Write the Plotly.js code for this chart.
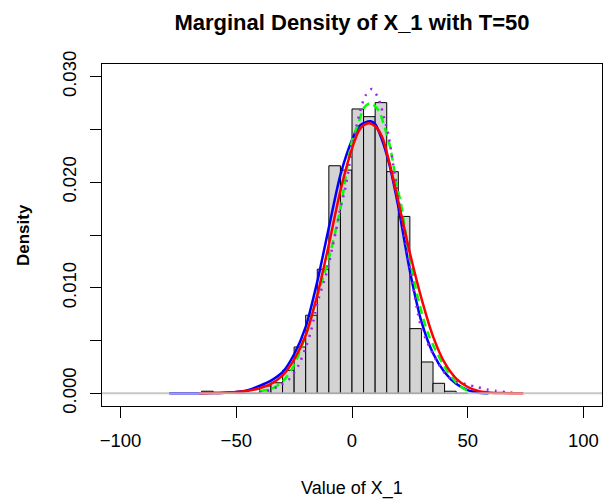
<!DOCTYPE html>
<html>
<head>
<meta charset="utf-8">
<script src="https://cdn.plot.ly/plotly-3.0.1.min.js"></script>
<style>html,body{margin:0;padding:0;background:#fff;}#chart{width:603px;height:501px;}</style>
</head>
<body>
<div id="chart"></div>
<script>
// Histogram (bin width 5): left edges and densities
const binLeft = [-65, -60, -55, -50, -45, -40, -35, -30, -25, -20, -15, -10, -5, 0, 5, 10, 15, 20, 25, 30, 35, 40, 45];
const binDensity = [0.0002, 0, 0, 0, 0, 0.0007, 0.0010, 0.00218, 0.00439, 0.0074, 0.01176, 0.02156, 0.02115, 0.02694, 0.02621, 0.02754, 0.0210, 0.01676, 0.00613, 0.00297, 0.00095, 0.0002, 0];
const binWidth = 5;

// Density curves
const blueX = [-79, -70, -60, -55, -50, -45, -40, -35, -30, -25, -20, -15, -10, -5, 0, 3, 6, 8, 10, 13, 16, 20, 25, 30, 35, 40, 45, 50, 55, 59];
const blueY = [0, 0.00001, 0.00003, 0.00006, 0.00013, 0.0003, 0.0007, 0.0012, 0.0020, 0.0037, 0.0063, 0.0106, 0.0157, 0.0207, 0.0240, 0.0253, 0.0257, 0.02577, 0.0255, 0.0240, 0.0218, 0.0177, 0.0116, 0.0068, 0.0038, 0.0020, 0.0009, 0.0003, 0.00006, 0];

const greenX = [-40, -35, -30, -25, -20, -15, -10, -5, 0, 2.6, 5.3, 8, 11.5, 14.1, 16.5, 19.3, 21.2, 24.4, 28.4, 33, 40, 46, 51];
const greenY = [0.0002, 0.0004, 0.0011, 0.0027, 0.0055, 0.0092, 0.0128, 0.0175, 0.0239, 0.0255, 0.0271, 0.0275, 0.0268, 0.0252, 0.0233, 0.0198, 0.0179, 0.0135, 0.0091, 0.0056, 0.0025, 0.0008, 0.0001];

const purpleX = [-40, -37, -31.5, -26.5, -22.9, -20, -17.9, -16, -14.3, -12, -10, -8.6, -6.9, -5, -3.1, 1.2, 3.2, 4.3, 5.8, 8.6, 11, 12.5, 13.6, 14.6, 15.8, 20, 25, 30, 37, 41.6, 46.2, 49.9, 54, 58, 62.3, 66.6, 70];
const purpleY = [0.0001, 0.0002, 0.0007, 0.00148, 0.00275, 0.00433, 0.00575, 0.0075, 0.00907, 0.01065, 0.01224, 0.0137, 0.0154, 0.0176, 0.0192, 0.02457, 0.02647, 0.02732, 0.0282, 0.02884, 0.02811, 0.02726, 0.02631, 0.02552, 0.02441, 0.0185, 0.0120, 0.0062, 0.0029, 0.00155, 0.00107, 0.00082, 0.0006, 0.00038, 0.00022, 0.00012, 0.00005];

const redX = [-66, -60, -55, -50, -45, -40, -35, -30, -25, -20, -15, -10, -5, 0, 3, 5, 7.5, 10, 13, 16, 20, 25, 30, 35, 40, 45, 50, 55, 60, 65, 74];
const redY = [0, 0.00003, 0.00006, 0.00012, 0.00025, 0.00047, 0.0009, 0.0017, 0.0032, 0.0055, 0.0093, 0.0141, 0.0192, 0.0232, 0.0249, 0.0254, 0.02558, 0.0253, 0.0243, 0.0220, 0.0182, 0.0133, 0.0090, 0.0054, 0.0029, 0.0014, 0.0006, 0.0002, 0.00006, 0.00002, 0];

// Axis ticks
const xTickVals = [-100, -50, 0, 50, 100];
const xTickText = ["\u2212100", "\u221250", "0", "50", "100"];
const yTickVals = [0, 0.005, 0.010, 0.015, 0.020, 0.025, 0.030];
const yTickText = ["0.000", "", "0.010", "", "0.020", "", "0.030"];
const xRange = [-108, 108];
const yRange = [-0.0012, 0.0312];

const FONT = "Liberation Sans, Arial, Helvetica, sans-serif";

const traces = [
  {
    type: "bar",
    x: binLeft.map(v => v + binWidth / 2),
    y: binDensity,
    width: binWidth,
    marker: {color: "#d3d3d3", line: {color: "#000000", width: 1}},
    hoverinfo: "skip"
  },
  {type: "scatter", mode: "lines", x: blueX, y: blueY, line: {color: "#0000ff", width: 2.5, shape: "spline", smoothing: 0.8}},
  {type: "scatter", mode: "lines", x: greenX, y: greenY, line: {color: "#00ff00", width: 2.5, dash: "8px,5px", shape: "spline", smoothing: 0.8}},
  {type: "scatter", mode: "lines", x: purpleX, y: purpleY, line: {color: "#a020f0", width: 2.5, dash: "2px,6px", shape: "spline", smoothing: 0.8}},
  {type: "scatter", mode: "lines", x: redX, y: redY, line: {color: "#ff0000", width: 2.5, shape: "spline", smoothing: 0.8}},
  {
    type: "scatter", mode: "lines",
    x: xRange, y: [0, 0],
    line: {color: "#bebebe", width: 2},
    opacity: 0.85,
    hoverinfo: "skip"
  }
];

const layout = {
  width: 603, height: 501,
  margin: {l: 102, r: 1, t: 64, b: 95, pad: 0},
  paper_bgcolor: "#ffffff", plot_bgcolor: "#ffffff",
  showlegend: false,
  bargap: 0,
  font: {family: FONT, color: "#000000", size: 16},
  title: {
    text: "<b>Marginal Density of X_1 with T=50</b>",
    font: {family: FONT, size: 22, color: "#000000"},
    x: 0.5, xref: "paper", xanchor: "center",
    y: 1 - 22 / 501, yref: "container", yanchor: "middle"
  },
  xaxis: {
    range: xRange, tickvals: xTickVals, ticktext: xTickText,
    ticks: "outside", ticklen: 11, tickwidth: 1, tickcolor: "#000",
    showline: true, mirror: true, linecolor: "#000", linewidth: 1,
    showgrid: false, zeroline: false,
    tickfont: {family: FONT, size: 18.5, color: "#000"},
    ticklabelstandoff: 7
  },
  yaxis: {
    range: yRange, tickvals: yTickVals, ticktext: yTickText,
    ticks: "outside", ticklen: 11, tickwidth: 1, tickcolor: "#000",
    showline: true, mirror: true, linecolor: "#000", linewidth: 1,
    showgrid: false, zeroline: false, tickangle: -90,
    tickfont: {family: FONT, size: 18.5, color: "#000"},
    ticklabelstandoff: 7
  },
  annotations: [
    {text: "Value of X_1", xref: "paper", yref: "paper", x: 0.5, y: (501 - 95 - 488) / (501 - 64 - 95),
     xanchor: "center", yanchor: "middle", showarrow: false, font: {family: FONT, size: 18, color: "#000"}},
    {text: "<b>Density</b>", xref: "paper", yref: "paper", x: (23 - 102) / 500, y: 0.5, textangle: -90,
     xanchor: "center", yanchor: "middle", showarrow: false, font: {family: FONT, size: 17, color: "#000"}}
  ]
};

Plotly.newPlot("chart", traces, layout, {staticPlot: true, displayModeBar: false});
</script>
</body>
</html>
